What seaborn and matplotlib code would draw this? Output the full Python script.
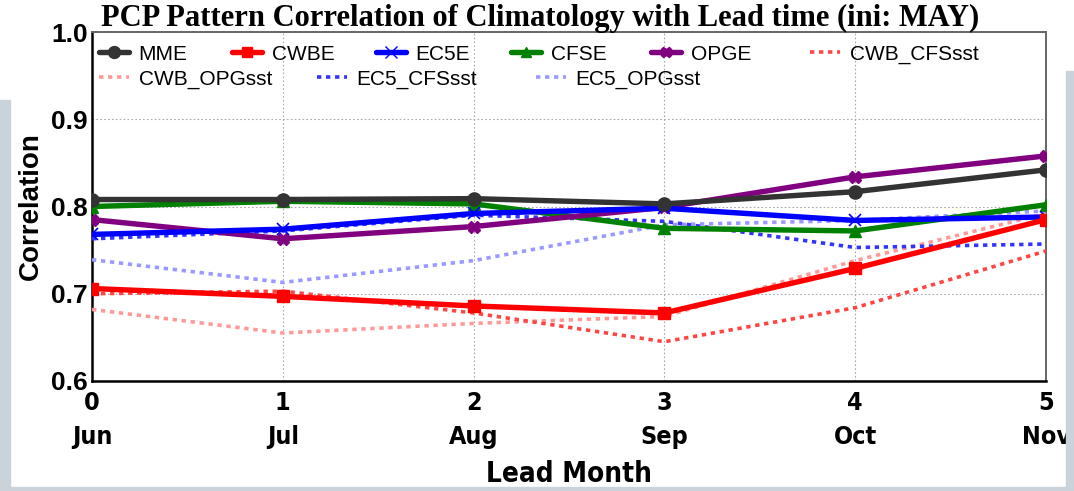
import matplotlib
matplotlib.use("Agg")
import matplotlib.pyplot as plt
from matplotlib.patches import Rectangle
from matplotlib.lines import Line2D
from matplotlib.legend import Legend
import seaborn as sns
import pandas as pd

sns.set_theme(style="white")
plt.rcParams['font.family'] = ['Liberation Sans', 'DejaVu Sans']
plt.rcParams['text.color'] = 'black'
plt.rcParams['axes.labelcolor'] = 'black'

lead = [0, 1, 2, 3, 4, 5]
months = ["Jun", "Jul", "Aug", "Sep", "Oct", "Nov"]

MME        = [0.808, 0.808, 0.809, 0.803, 0.817, 0.842]
CWBE       = [0.706, 0.697, 0.686, 0.678, 0.729, 0.785]
EC5E       = [0.768, 0.774, 0.792, 0.798, 0.784, 0.788]
CFSE       = [0.800, 0.806, 0.803, 0.775, 0.772, 0.802]
OPGE       = [0.785, 0.763, 0.777, 0.799, 0.834, 0.858]
CWB_CFSsst = [0.700, 0.703, 0.678, 0.645, 0.684, 0.749]
CWB_OPGsst = [0.682, 0.655, 0.666, 0.674, 0.738, 0.792]
EC5_CFSsst = [0.763, 0.772, 0.790, 0.783, 0.753, 0.757]
EC5_OPGsst = [0.739, 0.713, 0.738, 0.779, 0.784, 0.795]

series = {
    "MME": MME, "CWBE": CWBE, "EC5E": EC5E, "CFSE": CFSE, "OPGE": OPGE,
    "CWB_CFSsst": CWB_CFSsst, "CWB_OPGsst": CWB_OPGsst,
    "EC5_CFSsst": EC5_CFSsst, "EC5_OPGsst": EC5_OPGsst,
}

styles = {
    "MME":        dict(color="#333333", marker="o", ls="-", lw=3.9, ms=9.5),
    "CWBE":       dict(color="#ff0000", marker="s", ls="-", lw=3.9, ms=8.5),
    "EC5E":       dict(color="#0000ff", marker="x", ls="-", lw=3.9, ms=9, mew=1.2),
    "CFSE":       dict(color="#008000", marker="^", ls="-", lw=3.9, ms=8.5),
    "OPGE":       dict(color="#800080", marker="X", ls="-", lw=3.9, ms=8.5),
    "CWB_CFSsst": dict(color="#ff4444", marker=None, ls=(0, (1.2, 1.3)), lw=2.6),
    "CWB_OPGsst": dict(color="#ff9999", marker=None, ls=(0, (1.2, 1.3)), lw=2.6),
    "EC5_CFSsst": dict(color="#3333ff", marker=None, ls=(0, (1.2, 1.3)), lw=2.6),
    "EC5_OPGsst": dict(color="#9999ff", marker=None, ls=(0, (1.2, 1.3)), lw=2.6),
}

df = pd.DataFrame({"lead": lead, **series})

fig = plt.figure(figsize=(10.74, 4.91), dpi=100)
AX_L, AX_R, AX_T, AX_B = 92, 1046, 32, 381
ax = fig.add_axes([AX_L/1074, (491-AX_B)/491, (AX_R-AX_L)/1074, (AX_B-AX_T)/491])

# screenshot border strips
bg = "#c9d3d9"
fig.patches.append(Rectangle((0, 0), 10/1074, 391/491, transform=fig.transFigure, color=bg, zorder=0))
fig.patches.append(Rectangle((0, 0), 1, 4/491, transform=fig.transFigure, color=bg, zorder=0))
fig.patches.append(Rectangle((1066/1074, 0), 8/1074, 420/491, transform=fig.transFigure, color=bg, zorder=0))

draw_order = ["CWB_OPGsst", "EC5_OPGsst", "CWB_CFSsst", "EC5_CFSsst",
              "CFSE", "OPGE", "EC5E", "CWBE", "MME"]
for z, name in enumerate(draw_order):
    st = styles[name]
    kw = dict(color=st["color"], linestyle=st["ls"], linewidth=st["lw"], zorder=3 + z)
    if st["marker"]:
        kw.update(marker=st["marker"], markersize=st["ms"], markeredgecolor=st["color"],
                  markeredgewidth=st.get("mew", 1))
    sns.lineplot(data=df, x="lead", y=name, ax=ax, legend=False, **kw)

cond = dict(family="DejaVu Sans", fontstretch="condensed")

ax.set_xlim(0, 5)
ax.set_ylim(0.6, 1.0)
ax.set_xticks(lead)
ax.set_xticklabels([f"{i}\n{m}" for i, m in zip(lead, months)],
                   fontsize=18, fontweight="bold", linespacing=1.55, **cond)
yt = [0.6, 0.7, 0.8, 0.9, 1.0]
ax.set_yticks(yt)
ax.set_yticklabels([f"{v:.1f}" for v in yt], fontsize=19, fontweight="bold")
ax.tick_params(axis="x", direction="in", length=6, width=1.2, pad=7, colors="black")
ax.tick_params(axis="y", direction="in", length=6, width=1.2, pad=3, colors="black")
ax.grid(True, color="#aaaaaa", linestyle=(0, (1.5, 2)), linewidth=0.8)

for s in ["left", "bottom"]:
    ax.spines[s].set_color("black")
    ax.spines[s].set_linewidth(1.8)
for s in ["top", "right"]:
    ax.spines[s].set_color("#666666")
    ax.spines[s].set_linewidth(1.4)

ax.set_xlabel("Lead Month", fontsize=20, fontweight="bold", labelpad=8, **cond)
ax.set_ylabel("Correlation", fontsize=20, fontweight="bold", labelpad=5)

fig.text(540/1074, 1 - 18/491, "PCP Pattern Correlation of Climatology with Lead time (ini: MAY)",
         ha="center", va="center", fontsize=22, fontweight="bold", color="black",
         family=["Liberation Serif", "DejaVu Serif"])

def handle(name):
    st = styles[name]
    return Line2D([], [], color=st["color"], linestyle=st["ls"], linewidth=st["lw"],
                  marker=st["marker"] if st["marker"] else None,
                  markersize=st.get("ms", 0) * 0.9, markeredgecolor=st["color"])

# legend entries placed like the original (two rows, MATLAB-style columns)
row1 = ["MME", "CWBE", "EC5E", "CFSE", "OPGE", "CWB_CFSsst"]
row2 = ["CWB_OPGsst", "EC5_CFSsst", "EC5_OPGsst"]
row1_px = [99, 232, 376, 511, 651, 810]
row2_px = [99, 317, 536]
for names, xs, ycen in [(row1, row1_px, 54), (row2, row2_px, 79)]:
    for n, xp in zip(names, xs):
        lg = Legend(ax, [handle(n)], [n], loc="center left",
                    bbox_to_anchor=((xp - AX_L) / (AX_R - AX_L), (AX_B - ycen) / (AX_B - AX_T)),
                    frameon=False, fontsize=15, handlelength=1.45, handletextpad=0.45,
                    borderaxespad=0, borderpad=0, labelcolor="black")
        ax.add_artist(lg)

fig.savefig("out.png", dpi=100)
